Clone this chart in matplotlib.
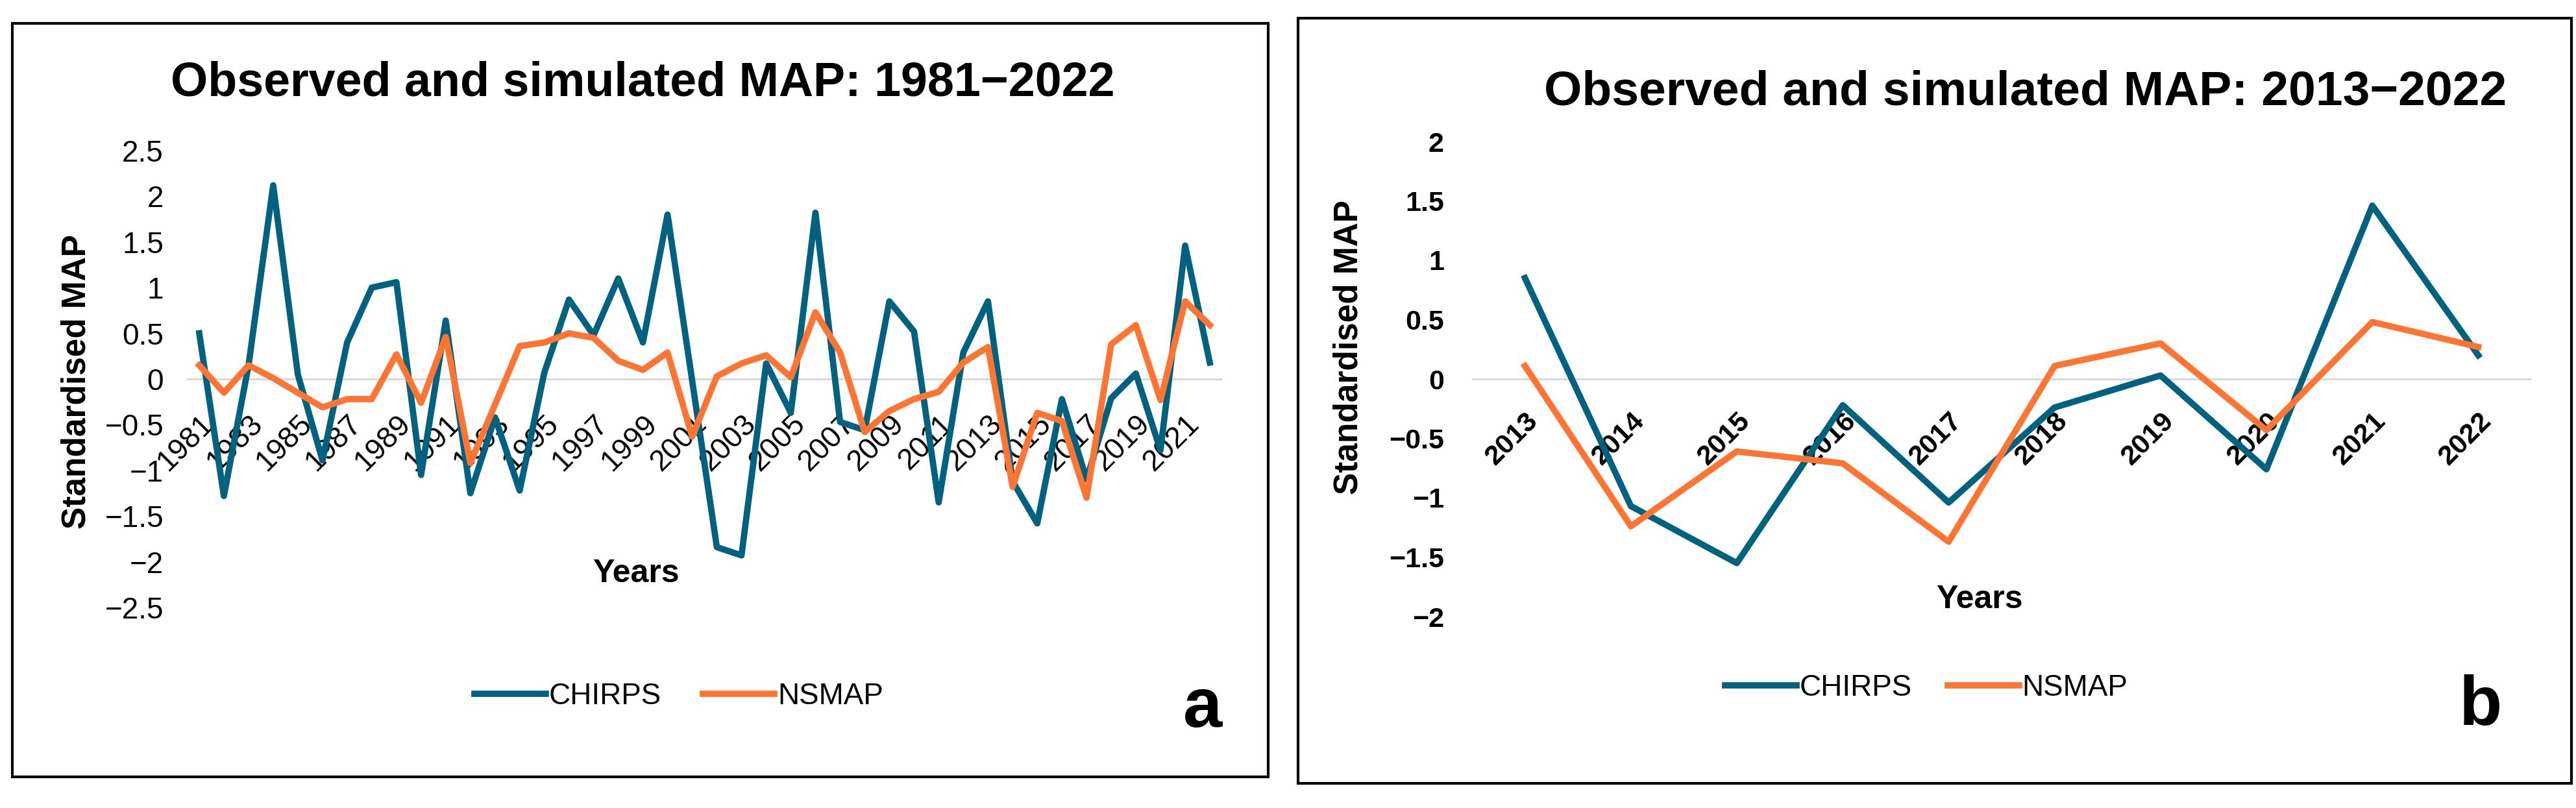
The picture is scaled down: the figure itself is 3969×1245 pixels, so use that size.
import matplotlib
matplotlib.use("Agg")
import matplotlib.pyplot as plt
from matplotlib.patches import Rectangle
import numpy as np

plt.rcParams['font.family'] = ['Liberation Sans', 'DejaVu Sans']

# panel a data, 1981-2022
years_a = list(range(1981, 2023))
chirps_a = [0.50, -1.28, 0.15, 2.12, 0.05, -0.89, 0.40, 1.00, 1.06, -1.05,
            0.64, -1.25, -0.42, -1.22, 0.07, 0.87, 0.48, 1.10, 0.40, 1.80,
            -0.02, -1.84, -1.93, 0.17, -0.37, 1.82, -0.47, -0.56, 0.85, 0.52,
            -1.35, 0.29, 0.85, -1.12, -1.58, -0.22, -1.10, -0.21, 0.06, -0.78,
            1.46, 0.18]
nsmap_a = [0.15, -0.15, 0.15, 0.01, -0.15, -0.31, -0.22, -0.22, 0.27, -0.26,
           0.46, -0.92, -0.28, 0.36, 0.40, 0.50, 0.45, 0.20, 0.10, 0.29,
           -0.63, 0.03, 0.17, 0.26, 0.02, 0.73, 0.29, -0.58, -0.35, -0.22,
           -0.14, 0.18, 0.35, -1.18, -0.37, -0.46, -1.30, 0.38, 0.59, -0.23,
           0.85, 0.59]

# panel b data, 2013-2022
years_b = list(range(2013, 2023))
chirps_b = [0.85, -1.07, -1.55, -0.22, -1.04, -0.24, 0.03, -0.76, 1.46, 0.20]
nsmap_b = [0.11, -1.24, -0.61, -0.71, -1.37, 0.11, 0.30, -0.43, 0.48, 0.27]

yticks_a = [-2.5, -2, -1.5, -1, -0.5, 0, 0.5, 1, 1.5, 2, 2.5]
yticks_b = [-2, -1.5, -1, -0.5, 0, 0.5, 1, 1.5, 2]

BLUE = '#00627f'
ORANGE = '#fe7433'
W, H = 3969, 1245


def fx(px):
    return px / W


def fy(py):
    return 1 - py / H


def rect(x0, x1, y_top, y_bot):
    return [fx(x0), fy(y_bot), fx(x1) - fx(x0), fy(y_top) - fy(y_bot)]


def fmt(v):
    s = ('%g' % v)
    return s.replace('-', '\u2212')


def setup_axes(ax, years, ylim, yticks, step, tick_fs, tick_w, ypad, xpad):
    n = len(years)
    ax.set_xlim(-0.5, n - 0.5)
    ax.set_ylim(*ylim)
    for s in ['top', 'right', 'left', 'bottom']:
        ax.spines[s].set_visible(False)
    ax.axhline(0, color='#d9d9d9', lw=2.2, zorder=1)
    ax.set_yticks(yticks)
    ax.set_yticklabels([fmt(v) for v in yticks], fontsize=tick_fs,
                       fontweight=tick_w)
    idx = list(range(0, n, step))
    ax.set_xticks(idx)
    ax.set_xticklabels([str(years[i]) for i in idx], fontsize=tick_fs,
                       fontweight=tick_w, rotation=45, ha='right', va='top',
                       rotation_mode='anchor')
    ax.tick_params(axis='both', length=0)
    ax.tick_params(axis='y', pad=ypad)
    ax.patch.set_alpha(0)
    # x labels hang just below the zero line, as in Excel
    off = matplotlib.transforms.ScaledTranslation(0, -xpad / 72, ax.figure.dpi_scale_trans)
    trans = ax.transData + off
    for lab in ax.get_xticklabels():
        lab.set_transform(trans)
        lab.set_y(0)


fig = plt.figure(figsize=(W / 100, H / 100), dpi=100)

# panel borders
for x0, x1, y0, y1 in [(19, 1954, 36, 1197), (2000, 3962, 28, 1207)]:
    fig.patches.append(Rectangle((fx(x0), fy(y1)), fx(x1) - fx(x0), fy(y0) - fy(y1),
                                 transform=fig.transFigure, fill=False,
                                 ec='black', lw=3))

# ---- panel a ----
ax1 = fig.add_axes(rect(288, 1883, 232, 936))
xa = np.arange(len(years_a))
l1, = ax1.plot(xa, chirps_a, color=BLUE, lw=7, label='CHIRPS', zorder=3)
l2, = ax1.plot(xa, nsmap_a, color=ORANGE, lw=7, label='NSMAP', zorder=3)
setup_axes(ax1, years_a, (-2.5, 2.5), yticks_a, 2, 33, 'normal', 26, 34)
ax1.legend(handles=[l1, l2], ncol=2, loc='center', frameon=False,
           bbox_to_anchor=(fx(1046), fy(1073)), bbox_transform=fig.transFigure,
           fontsize=33, handlelength=2.4, handletextpad=0.1, columnspacing=1.4,
           borderpad=0)
fig.text(fx(990), fy(147), 'Observed and simulated MAP: 1981\u22122022',
         fontsize=53, fontweight='bold', ha='center', va='baseline')
fig.text(fx(118), fy(588), 'Standardised MAP', fontsize=37, fontweight='bold',
         rotation=90, ha='center', va='center')
fig.text(fx(980), fy(884), 'Years', fontsize=36, fontweight='bold',
         ha='center', va='center')
fig.text(fx(1853), fy(1120), 'a', fontsize=78, fontweight='bold',
         ha='center', va='baseline')

# ---- panel b ----
ax2 = fig.add_axes(rect(2268, 3900, 218, 950))
xb = np.arange(len(years_b))
m1, = ax2.plot(xb, chirps_b, color=BLUE, lw=7, label='CHIRPS', zorder=3)
m2, = ax2.plot(xb, nsmap_b, color=ORANGE, lw=7, label='NSMAP', zorder=3)
setup_axes(ax2, years_b, (-2, 2), yticks_b, 1, 31, 'bold', 31, 32)
ax2.legend(handles=[m1, m2], ncol=2, loc='center', frameon=False,
           bbox_to_anchor=(fx(2968), fy(1060)), bbox_transform=fig.transFigure,
           fontsize=33, handlelength=2.4, handletextpad=0.1, columnspacing=1.2,
           borderpad=0)
fig.text(fx(3121), fy(162), 'Observed and simulated MAP: 2013\u22122022',
         fontsize=54, fontweight='bold', ha='center', va='baseline')
fig.text(fx(2078), fy(535), 'Standardised MAP', fontsize=37, fontweight='bold',
         rotation=90, ha='center', va='center')
fig.text(fx(3050), fy(924), 'Years', fontsize=36, fontweight='bold',
         ha='center', va='center')
fig.text(fx(3822), fy(1117), 'b', fontsize=78, fontweight='bold',
         ha='center', va='baseline')

fig.savefig('out.png', dpi=100, facecolor='white')
